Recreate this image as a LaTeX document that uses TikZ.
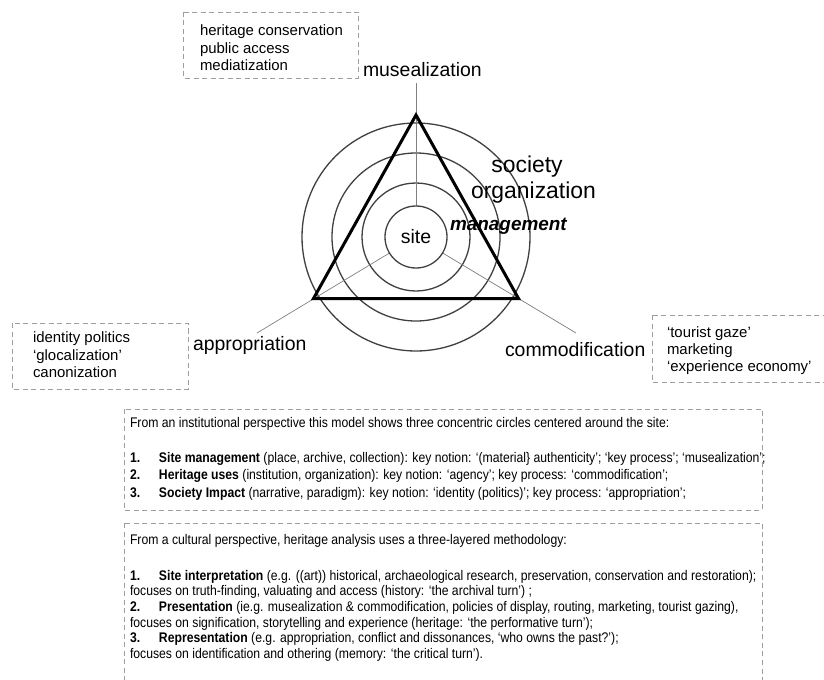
\documentclass[tikz,border=0pt]{standalone}
\usepackage{fontspec}
\setmainfont{Liberation Sans}
\newfontfamily\narrowfont[FakeStretch=0.875]{Liberation Sans}
\pgfdeclarelayer{bg}
\pgfsetlayers{bg,main}
\tikzset{
    every node/.style={inner sep=0pt, outer sep=0pt},
    ring/.style={draw=black!75, line width=1.3bp},
    spoke/.style={draw=black!50, line width=0.7bp},
    frame/.style={draw=black, line width=3bp, line join=miter},
    notebox/.style={draw=black!38, line width=0.9bp, dash pattern=on 5bp off 3.5bp},
    biglabel/.style={font=\fontsize{19.5}{22}\selectfont, anchor=base west},
    layerlabel/.style={font=\fontsize{23}{26}\selectfont, anchor=base},
    notetext/.style={font=\fontsize{15}{17.5}\selectfont, anchor=base west},
    bodytext/.style={font=\narrowfont\fontsize{14}{17.5}\selectfont, anchor=base west}
}
\newcommand{\itemno}[1]{\makebox[29bp][l]{\textbf{#1}}}

\begin{document}
\begin{tikzpicture}[x=1bp, y=-1bp]
        \useasboundingbox (0,0) rectangle (824,680);
        \clip (0,0) rectangle (824,680);
        \coordinate (c) at (416,237);
        \node (site) [circle, ring, minimum size=62bp, font=\fontsize{19.5}{22}\selectfont] at (c) {site};
        \coordinate (muse) at (416,115);
        \coordinate (appr) at (313.5,298.5);
        \coordinate (comm) at (518.5,298.5);
        \coordinate (museEnd) at (416,83);
        \coordinate (apprEnd) at (257,333);
        \coordinate (commEnd) at (576,333);
        \begin{pgfonlayer}{bg}
                \draw[ring] (c) circle[radius=54bp];
                \draw[ring] (c) circle[radius=84bp];
                \draw[ring] (c) circle[radius=114bp];
                \draw[spoke] (site) -- (museEnd);
                \draw[spoke] (site) -- (apprEnd);
                \draw[spoke] (site) -- (commEnd);
        \end{pgfonlayer}
        \draw[frame] (muse) -- (appr) -- (comm) -- cycle;

        \node (lmuse) [biglabel] at (363,77) {musealization};
        \node (lappr) [biglabel] at (193,350) {appropriation};
        \node (lcomm) [biglabel] at (505,356) {commodification};
        \node (lsoc) [layerlabel] at (527,172) {society};
        \node (lorg) [layerlabel] at (533.5,198) {organization};
        \node (lman) [biglabel, font=\fontsize{19}{22}\selectfont\bfseries\itshape] at (450,230) {management};

        \draw[notebox] (183,12) rectangle (358,78);
        \node (m1) [notetext] at (200,36) {heritage conservation};
        \node (m2) [notetext] at (200,53.5) {public access};
        \node (m3) [notetext] at (200,71) {mediatization};

        \draw[notebox] (12,323) rectangle (188,389);
        \node (a1) [notetext] at (33,342) {identity politics};
        \node (a2) [notetext] at (33,360) {‘glocalization’};
        \node (a3) [notetext] at (33,377) {canonization};

        \draw[notebox] (652,315) rectangle (830,382);
        \node (c1) [notetext] at (667,337) {‘tourist gaze’};
        \node (c2) [notetext] at (667,354) {marketing};
        \node (c3) [notetext] at (667,371) {‘experience economy’};

        \draw[notebox] (124,409) rectangle (762,510);
        \node (i0) [bodytext] at (130,427) {From an institutional perspective this model shows three concentric circles centered around the site:};
        \node (i1) [bodytext] at (130,462) {\itemno{1.}\textbf{Site management} (place, archive, collection): key notion: ‘(material\} authenticity’; ‘key process’; ‘musealization’;};
        \node (i2) [bodytext] at (130,479.5) {\itemno{2.}\textbf{Heritage uses} (institution, organization): key notion: ‘agency’; key process: ‘commodification’;};
        \node (i3) [bodytext] at (130,497) {\itemno{3.}\textbf{Society Impact} (narrative, paradigm): key notion: ‘identity (politics)’; key process: ‘appropriation’;};

        \draw[notebox] (124,523) rectangle (762,700);
        \node (k0) [bodytext] at (130,544) {From a cultural perspective, heritage analysis uses a three-layered methodology:};
        \node (k1) [bodytext] at (130,580) {\itemno{1.}\textbf{Site interpretation} (e.g. ((art)) historical, archaeological research, preservation, conservation and restoration);};
        \node (k2) [bodytext] at (130,595.7) {focuses on truth-finding, valuating and access (history: ‘the archival turn’) ;};
        \node (k3) [bodytext] at (130,611.4) {\itemno{2.}\textbf{Presentation} (ie.g. musealization \& commodification, policies of display, routing, marketing, tourist gazing),};
        \node (k4) [bodytext] at (130,627) {focuses on signification, storytelling and experience (heritage: ‘the performative turn’);};
        \node (k5) [bodytext] at (130,642.8) {\itemno{3.}\textbf{Representation} (e.g. appropriation, conflict and dissonances, ‘who owns the past?’);};
        \node (k6) [bodytext] at (130,658.5) {focuses on identification and othering (memory: ‘the critical turn’).};
\end{tikzpicture}
\end{document}
